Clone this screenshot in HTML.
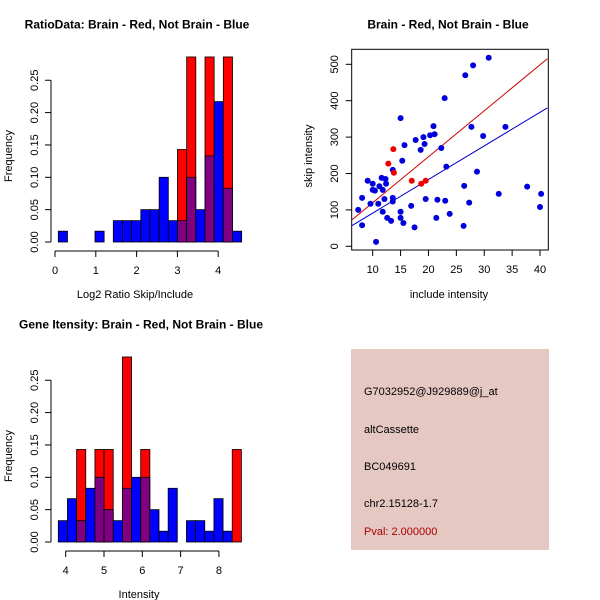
<!DOCTYPE html>
<html><head><meta charset="utf-8"><style>
body{margin:0;background:#fff}
svg{display:block;font-family:"Liberation Sans",sans-serif}
</style></head><body>
<svg id="c" width="600" height="600" xmlns="http://www.w3.org/2000/svg"></svg>
<script>
// Ratio histogram data
const ratioStart = 0.081, ratioWidth = 0.2247;
const ratioBlue = [0.0167,0,0,0,0.0167,0,0.033,0.033,0.033,0.05,0.05,0.1,0.033,0.033,0.1,0.05,0.133,0.217,0.083,0.0167];
const ratioRed  = [0,0,0,0,0,0,0,0,0,0,0,0,0,0.143,0.286,0,0.286,0,0.286,0];
const ratioXTicks = [0,1,2,3,4];
// Intensity histogram data
const intStart = 3.807, intWidth = 0.239;
const intBlue = [0.033,0.067,0.033,0.083,0.1,0.05,0.033,0.083,0.1,0.1,0.05,0.0167,0.083,0,0.033,0.033,0.0167,0.067,0.0167,0];
const intRed  = [0,0,0.143,0,0.143,0.143,0,0.286,0,0.143,0,0,0,0,0,0,0,0,0,0.143];
const intXTicks = [4,5,6,7,8];
const freqTicks = ["0.00","0.05","0.10","0.15","0.20","0.25"];
// Scatter data
const blueX = [7.4,8.1,8.1,9.1,9.6,10.0,10.0,10.4,10.6,11.0,11.2,11.6,11.8,11.8,12.1,12.3,12.4,12.6,13.3,13.6,13.6,13.6,15.0,15.0,15.0,15.3,15.5,15.7,16.9,17.5,17.7,18.6,19.1,19.3,19.5,20.3,20.9,21.1,21.4,21.6,22.3,22.9,23.0,23.2,23.8,26.3,26.4,26.6,27.3,27.7,28.0,28.7,29.8,30.8,32.6,33.8,37.7,40.0,40.2];
const blueY = [100,133,58,180,117,172,155,153,12,117,165,188,95,155,130,185,172,78,70,210,133,123,352,95,78,235,64,278,111,52,292,265,300,281,130,305,330,308,78,128,270,407,125,219,89,56,166,470,120,328,497,205,303,518,144,328,164,108,144];
const redX = [12.8,13.7,13.8,17.0,18.7,19.5];
const redY = [227,267,202,180,172,180];
const redFit = [-6.6,12.63];
const blueFit = [-1.1,9.23];
const scXTicks = [10,15,20,25,30,35,40];
const scYTicks = [0,100,200,300,400,500];

const svg = document.getElementById('c');
const NS = 'http://www.w3.org/2000/svg';
function el(tag, attrs, parent, text){
  const e = document.createElementNS(NS, tag);
  for (const k in attrs) e.setAttribute(k, attrs[k]);
  if (text !== undefined) e.textContent = text;
  (parent||svg).appendChild(e);
  return e;
}

function hist(g, oy, start, width, blue, red, xTicks, x0px, pxPerUnit, title, titleX, xlabel){
  const yz = 242 + oy, ys = 647;
  const X = v => x0px + (v - xTicks[0]) * pxPerUnit;
  const Y = v => yz - v * ys;
  for (let i = 0; i < blue.length; i++){
    const a = start + i*width, b = a + width;
    const x1 = X(a), x2 = X(b);
    const bv = blue[i], rv = red[i];
    if (rv > 0){
      const r = el('rect',{x:x1,y:Y(rv),width:x2-x1,height:yz-Y(rv),fill:'#ff0000',stroke:'#000','stroke-width':0.8},g);
      
      
    }
    if (bv > 0){
      const ov = rv > 0;
      const r = el('rect',{x:x1,y:Y(bv),width:x2-x1,height:yz-Y(bv),fill:ov?'#7f0080':'#0000ff',stroke:'#000','stroke-width':0.8},g);
      
      
    }
  }
  // y axis
  const ya = el('g',{},g);
  
  
  el('line',{x1:51,x2:51,y1:Y(0),y2:Y(0.25),stroke:'#000'},ya);
  freqTicks.forEach((t,i)=>{
    const y = Y(i*0.05);
    el('line',{x1:45,x2:51,y1:y,y2:y,stroke:'#000'},ya);
    el('text',{x:38,y:y,'font-size':11,'text-anchor':'middle',transform:`rotate(-90 38 ${y})`},ya,t);
  });
  const yl = el('text',{x:12,y:156+oy,'font-size':11,'text-anchor':'middle',transform:`rotate(-90 12 ${156+oy})`},g,'Frequency');
  
  
  // x axis
  const xa = el('g',{},g);
  
  
  const ay = 251 + oy;
  el('line',{x1:X(xTicks[0]),x2:X(xTicks[xTicks.length-1]),y1:ay,y2:ay,stroke:'#000'},xa);
  xTicks.forEach(t=>{
    el('line',{x1:X(t),x2:X(t),y1:ay,y2:ay+6,stroke:'#000'},xa);
    el('text',{x:X(t),y:ay+23,'font-size':11,'text-anchor':'middle'},xa,String(t));
  });
  const xl = el('text',{x:titleX-2,y:298+oy,'font-size':11,'text-anchor':'middle'},g,xlabel);
  
  
  const tt = el('text',{x:titleX,y:28.5+oy,'font-size':12,'font-weight':'bold','text-anchor':'middle'},g,title);
  
  
}

const g1 = el('g',{}); 


hist(g1, 0, ratioStart, ratioWidth, ratioBlue, ratioRed, ratioXTicks, 55, 40.8, 'RatioData: Brain - Red, Not Brain - Blue', 137, 'Log2 Ratio Skip/Include');

const g2 = el('g',{});


hist(g2, 300, intStart, intWidth, intBlue, intRed, intXTicks, 65.7, 38.3, 'Gene Itensity: Brain - Red, Not Brain - Blue', 141, 'Intensity');

// scatter
const g3 = el('g',{});


const SX = v => 372.7 + (v-10)*5.577;
const SY = v => 246.3 - v*0.364;
const L = 351.7, R = 548.3, T = 49.3, B = 250;
el('rect',{x:L,y:T,width:R-L,height:B-T,fill:'none',stroke:'#000'},g3);
const cp = el('clipPath',{id:'clp'},g3);
el('rect',{x:L,y:T,width:R-L,height:B-T},cp);
const lines = el('g',{'clip-path':'url(#clp)'},g3);
[[redFit,'#cc0000','red-fit-line'],[blueFit,'#0000cc','blue-fit-line']].forEach(([f,c,n])=>{
  const xa = 6.3, xb = 41.3;
  const ln = el('line',{x1:SX(xa),y1:SY(f[0]+f[1]*xa),x2:SX(xb),y2:SY(f[0]+f[1]*xb),stroke:c,'stroke-width':1},lines);
  
  
});
blueX.forEach((x,i)=>{
  const p = el('circle',{cx:SX(x),cy:SY(blueY[i]),r:3,fill:'#0000dd'},g3);
  
  
});
redX.forEach((x,i)=>{
  const p = el('circle',{cx:SX(x),cy:SY(redY[i]),r:3,fill:'#ee0000'},g3);
  
  
});
const sxa = el('g',{},g3);


scXTicks.forEach(t=>{
  el('line',{x1:SX(t),x2:SX(t),y1:B,y2:B+6,stroke:'#000'},sxa);
  el('text',{x:SX(t),y:B+23,'font-size':11,'text-anchor':'middle'},sxa,String(t));
});
const sya = el('g',{},g3);


scYTicks.forEach(t=>{
  el('line',{x1:L-6,x2:L,y1:SY(t),y2:SY(t),stroke:'#000'},sya);
  el('text',{x:338,y:SY(t),'font-size':11,'text-anchor':'middle',transform:`rotate(-90 338 ${SY(t)})`},sya,String(t));
});
const sxl = el('text',{x:449,y:298,'font-size':11,'text-anchor':'middle'},g3,'include intensity');


const syl = el('text',{x:312,y:156,'font-size':11,'text-anchor':'middle',transform:'rotate(-90 312 156)'},g3,'skip intensity');


const st = el('text',{x:448,y:28.5,'font-size':12,'font-weight':'bold','text-anchor':'middle'},g3,'Brain - Red, Not Brain - Blue');



// info box
const g4 = el('g',{});


el('rect',{x:351,y:349,width:198,height:201,fill:'#e6c8c2'},g4);
[['G7032952@J929889@j_at',395,'#000','probe-id'],['altCassette',433,'#000','event-type'],['BC049691',470,'#000','accession'],['chr2.15128-1.7',507,'#000','location'],['Pval: 2.000000',535,'#aa0000','p-value']].forEach(([t,y,c,n])=>{
  const tx = el('text',{x:364,y:y,'font-size':11,fill:c},g4,t);
  
  
});
</script>
</body></html>
